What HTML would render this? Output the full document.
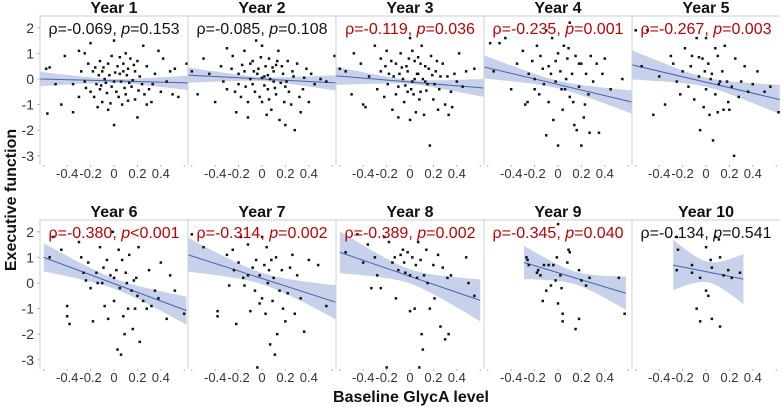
<!DOCTYPE html>
<html><head><meta charset="utf-8"><style>
html,body{margin:0;padding:0;background:#fff;}
svg{display:block;font-family:"Liberation Sans",sans-serif;}
</style></head><body>
<svg id="chart" width="782" height="407" viewBox="0 0 782 407" xmlns="http://www.w3.org/2000/svg">
<text x="0" y="0" transform="translate(16,200) rotate(-90)" text-anchor="middle" font-size="16" font-weight="bold" fill="#111">Executive function</text>
<text x="411" y="402" text-anchor="middle" font-size="16" font-weight="bold" fill="#111">Baseline GlycA level</text>
<g id="panels"></g>
</svg>
<script>
const titles=["Year 1","Year 2","Year 3","Year 4","Year 5","Year 6","Year 7","Year 8","Year 9","Year 10"];
const rhoVals=["-0.069","-0.085","-0.119","-0.235","-0.267","-0.380","-0.314","-0.389","-0.345","-0.134"];
const pVals=["=0.153","=0.108","=0.036","=0.001","=0.003","<0.001","=0.002","=0.002","=0.040","=0.541"];
const significant=[false,false,true,true,true,true,true,true,true,false];
const fitXMin=[-0.63,-0.63,-0.63,-0.63,-0.63,-0.6,-0.63,-0.6,-0.29,-0.28];
const fitXMax=[0.63,0.63,0.63,0.63,0.63,0.62,0.63,0.6,0.58,0.32];
const fitYStart=[0.0,0.15,0.12,0.47,0.55,1.0,1.1,1.2,0.8,0.7];
const fitYEnd=[-0.15,-0.15,-0.35,-0.9,-0.8,-1.08,-0.75,-0.68,-0.4,0.15];
const bandCenter=[0.08,0.08,0.08,0.15,0.18,0.2,0.22,0.28,0.25,0.4];
const bandEdge=[0.28,0.3,0.35,0.45,0.57,0.55,0.66,0.82,0.65,0.98];
const yTicks=[2,1,0,-1,-2,-3];
const xTicks=["-0.4","-0.2","0","0.2","0.4"];
const xTickVals=[-0.4,-0.2,0,0.2,0.4];
const pts1=[[-0.58,0.4],[-0.55,0.45],[-0.5,-0.2],[-0.57,-1.35],[-0.45,-1.0],[-0.35,-1.3],[-0.42,0.9],[-0.3,1.1],[-0.25,1.0],[-0.2,1.4],[-0.12,0.7],[-0.1,0.3],[-0.15,-0.2],[-0.2,-0.5],[-0.25,-0.1],[-0.3,-0.7],[-0.1,-0.9],[-0.05,-1.2],[0.0,-1.8],[0.02,-0.5],[0.05,0.2],[0.08,0.6],[0.1,1.0],[0.12,0.4],[0.15,-0.3],[0.18,-0.8],[0.2,-1.5],[0.22,0.1],[0.25,1.3],[0.28,0.5],[0.3,-0.4],[0.32,-0.9],[0.35,0.2],[0.38,1.1],[0.4,-0.5],[0.42,0.8],[0.45,-0.1],[0.48,0.3],[0.5,-0.6],[0.55,-0.7],[0.52,0.4],[0.62,0.6],[-0.08,0.0],[-0.02,-0.3],[0.03,0.5],[0.06,-0.1],[-0.12,-0.4],[-0.18,0.3],[0.0,1.5],[-0.05,0.6],[0.1,-0.6],[0.14,0.8],[0.18,0.3],[-0.22,0.6],[-0.28,0.3],[-0.35,-0.2],[0.24,-0.2],[0.28,-1.0],[0.07,-1.0],[-0.14,-1.1],[-0.02,0.9],[0.16,-0.05],[0.04,-0.7],[-0.09,0.45],[0.2,0.7],[-0.17,-0.7],[0.33,-0.2],[0.11,0.15],[-0.06,-0.55],[0.01,0.25],[-0.04,0.15],[0.09,-0.35],[-0.13,0.15],[0.21,-0.45],[0.13,-0.15],[-0.07,-0.15],[0.05,0.85],[-0.24,-0.35],[-0.16,0.45],[0.0,-0.1],[0.08,0.3],[-0.11,-0.25],[0.17,0.55],[0.26,-0.6],[-0.03,-0.95],[0.12,-0.85]];
const pts2=[[-0.6,0.3],[-0.55,-0.6],[-0.5,0.8],[-0.45,0.2],[-0.4,-0.9],[-0.35,0.5],[-0.3,1.2],[-0.3,-0.4],[-0.25,0.9],[-0.22,-1.3],[-0.2,0.2],[-0.18,-0.7],[-0.15,1.1],[-0.12,-1.5],[-0.1,0.6],[-0.08,-0.2],[-0.05,1.5],[-0.03,0.4],[0.0,-0.9],[0.0,1.3],[0.02,0.1],[0.05,-0.4],[0.06,0.8],[0.08,-1.2],[0.1,0.3],[0.12,-0.6],[0.14,1.1],[0.15,-1.6],[0.17,0.5],[0.2,-0.3],[0.2,-1.8],[0.22,0.7],[0.25,-1.0],[0.27,0.1],[0.28,-2.0],[0.3,0.6],[0.33,-1.3],[0.35,-0.4],[0.38,0.4],[0.4,-0.9],[0.42,0.2],[0.45,-0.2],[0.5,0.0],[0.55,-0.1],[0.62,0.9],[-0.1,0.0],[-0.06,-0.5],[0.03,0.5],[0.07,0.0],[0.1,-0.1],[-0.15,0.3],[-0.2,-0.2],[0.18,0.2],[-0.02,-0.7],[0.13,0.7],[0.23,-0.5],[-0.26,0.4],[-0.12,-0.9],[0.04,-1.4],[0.09,0.45],[-0.04,0.2],[0.16,-0.15],[-0.08,0.7],[0.26,0.3],[0.32,-0.7],[-0.33,-0.1],[0.0,0.05],[0.11,-0.35],[-0.17,0.55],[0.06,-0.8],[-0.01,0.85],[0.19,-0.9],[-0.23,-0.5],[0.36,0.05],[-0.07,0.3],[0.05,0.15],[0.12,0.55],[-0.14,-0.3],[0.21,-0.1],[0.02,-0.25]];
const pts3=[[-0.6,0.4],[-0.55,0.3],[-0.5,-0.6],[-0.48,1.0],[-0.42,0.6],[-0.4,-1.0],[-0.38,-1.1],[-0.35,0.1],[-0.3,1.3],[-0.28,-0.4],[-0.25,0.8],[-0.22,-0.7],[-0.2,1.1],[-0.18,0.2],[-0.15,-1.2],[-0.12,0.6],[-0.1,-0.3],[-0.08,1.0],[-0.05,-0.9],[-0.02,0.3],[0.0,1.6],[0.0,-1.6],[0.02,-0.1],[0.04,0.7],[0.05,-1.3],[0.07,0.2],[0.09,-0.5],[0.1,1.3],[0.12,-1.4],[0.13,0.5],[0.15,-0.2],[0.17,-2.6],[0.18,0.9],[0.2,-0.8],[0.22,0.3],[0.24,-1.2],[0.25,-0.4],[0.28,0.6],[0.3,-1.0],[0.32,0.1],[0.35,-0.5],[0.38,0.2],[0.4,-0.1],[0.42,1.0],[0.45,-0.3],[0.48,0.3],[0.55,0.4],[-0.06,0.0],[-0.03,0.5],[0.01,-0.4],[0.06,0.2],[0.11,0.0],[-0.14,0.1],[-0.19,-0.2],[0.16,0.4],[-0.01,0.8],[0.08,-0.8],[-0.1,-1.5],[0.21,-0.2],[-0.25,0.3],[0.26,0.1],[0.03,-0.6],[-0.07,0.45],[0.14,-0.45],[-0.16,0.7],[0.19,0.15],[-0.04,-0.25],[0.33,-1.4],[0.09,0.6],[-0.21,0.5],[0.23,0.7],[-0.12,-0.6],[0.02,1.1],[0.36,-1.1],[-0.09,0.2],[0.04,0.0],[0.13,-0.1],[-0.02,-0.5],[0.07,0.85]];
const pts4=[[-0.58,1.4],[-0.55,0.3],[-0.5,1.4],[-0.45,1.6],[-0.4,-0.4],[-0.35,0.6],[-0.3,1.1],[-0.28,-1.0],[-0.25,0.2],[-0.22,0.7],[-0.2,-0.4],[-0.18,1.3],[-0.15,0.9],[-0.12,-0.2],[-0.1,1.9],[-0.1,-2.2],[-0.08,0.5],[-0.05,1.6],[-0.04,-1.6],[-0.02,-0.1],[0.0,1.0],[0.0,-2.6],[0.02,0.3],[0.04,-1.2],[0.05,1.3],[0.06,-0.4],[0.08,0.8],[0.1,-0.7],[0.1,2.2],[0.12,0.2],[0.14,-1.8],[0.15,0.9],[0.16,-2.0],[0.18,-0.3],[0.2,0.6],[0.2,-2.6],[0.22,-1.5],[0.24,0.2],[0.26,-0.6],[0.28,0.9],[0.3,-0.1],[0.33,0.6],[0.35,-2.1],[0.38,0.2],[0.4,0.8],[0.45,-0.4],[0.55,0.0],[-0.06,0.2],[-0.16,-0.6],[0.07,0.0],[-0.26,-0.9],[0.13,-0.9],[-0.02,0.7],[0.18,0.6],[-0.2,0.0],[0.03,-0.4],[-0.13,0.4],[0.23,-1.0],[0.09,1.2],[-0.08,-0.9],[0.27,-2.1]];
const pts5=[[-0.6,1.9],[-0.55,0.5],[-0.5,1.9],[-0.45,-1.4],[-0.4,0.1],[-0.35,-1.0],[-0.3,0.9],[-0.28,0.6],[-0.25,-0.1],[-0.22,-0.6],[-0.2,0.3],[-0.18,1.2],[-0.15,-0.3],[-0.12,0.9],[-0.1,-0.8],[-0.08,1.6],[-0.06,0.1],[-0.05,-2.0],[-0.03,0.8],[-0.02,-1.1],[0.0,1.6],[0.0,-0.4],[0.02,0.6],[0.03,-1.4],[0.05,0.2],[0.06,-2.4],[0.08,1.2],[0.08,-0.6],[0.1,0.9],[0.1,-1.3],[0.12,-0.1],[0.14,0.3],[0.15,-1.2],[0.16,1.3],[0.18,-0.1],[0.2,-1.2],[0.22,-0.3],[0.24,-3.0],[0.25,0.8],[0.28,-0.7],[0.3,-0.1],[0.33,0.5],[0.36,-0.5],[0.4,-0.2],[0.44,0.3],[0.5,-0.5],[0.55,-0.3],[0.62,-1.3],[-0.13,0.5],[0.04,0.0],[-0.06,0.85],[0.11,-0.2],[0.19,-0.9],[-0.01,0.3]];
const pts6=[[-0.55,1.0],[-0.52,1.8],[-0.45,1.3],[-0.4,-1.3],[-0.4,-0.9],[-0.38,-1.6],[-0.3,1.6],[-0.28,1.0],[-0.26,0.4],[-0.24,0.1],[-0.22,0.8],[-0.2,-0.2],[-0.18,-1.5],[-0.15,0.4],[-0.12,1.4],[-0.1,0.0],[-0.08,-0.9],[-0.06,0.9],[-0.05,-1.4],[-0.03,0.3],[-0.01,2.0],[0.0,-0.7],[0.02,0.5],[0.03,-2.6],[0.04,1.3],[0.05,-0.2],[0.06,-2.8],[0.07,0.9],[0.08,-1.3],[0.09,-2.0],[0.1,0.4],[0.12,-1.0],[0.13,1.1],[0.15,-0.3],[0.16,-1.8],[0.17,0.1],[0.18,-1.0],[0.2,-0.5],[0.21,1.4],[0.22,-2.3],[0.25,-0.7],[0.28,-1.0],[0.3,0.5],[0.32,-0.9],[0.35,-0.3],[0.38,-0.6],[0.4,0.8],[0.45,-1.4],[0.48,0.3],[0.52,-0.3],[0.6,-1.2],[-0.14,0.0],[0.0,0.2],[0.11,0.0],[-0.09,0.6],[0.19,0.2]];
const pts7=[[-0.6,1.9],[-0.5,1.4],[-0.38,-1.1],[-0.38,-1.3],[-0.3,1.1],[-0.28,-0.1],[-0.25,1.3],[-0.24,0.5],[-0.22,-1.6],[-0.2,0.8],[-0.18,1.8],[-0.16,0.2],[-0.15,-0.1],[-0.12,1.5],[-0.1,-1.1],[-0.08,0.6],[-0.06,-0.3],[-0.05,0.9],[-0.04,-3.3],[-0.02,0.3],[0.0,1.8],[0.0,-0.6],[0.02,0.7],[0.03,-1.2],[0.04,1.4],[0.05,0.0],[0.07,-2.4],[0.08,0.9],[0.09,-0.7],[0.1,0.2],[0.11,-2.8],[0.12,1.0],[0.13,-2.0],[0.15,-0.3],[0.17,0.5],[0.18,-1.0],[0.2,-1.5],[0.22,-0.4],[0.24,0.6],[0.26,1.1],[0.28,-1.2],[0.3,0.3],[0.33,-0.6],[0.36,-1.9],[0.4,0.9],[0.48,0.7],[0.55,-0.9],[-0.12,0.3],[0.06,0.5],[-0.02,-0.8]];
const pts8=[[-0.55,1.2],[-0.45,1.9],[-0.4,0.8],[-0.36,1.5],[-0.33,-0.2],[-0.3,1.0],[-0.28,0.3],[-0.25,-0.2],[-0.22,1.8],[-0.2,-3.3],[-0.18,1.6],[-0.15,0.8],[-0.13,1.0],[-0.12,-0.6],[-0.1,0.5],[-0.08,1.1],[-0.06,1.3],[-0.05,0.8],[-0.04,0.4],[-0.02,1.2],[0.0,-1.1],[0.0,0.3],[0.02,1.0],[0.04,-1.0],[0.05,0.7],[0.06,0.2],[0.07,1.6],[0.08,-3.3],[0.09,0.9],[0.1,-2.0],[0.11,-2.6],[0.12,0.3],[0.14,1.3],[0.15,0.0],[0.17,-1.0],[0.2,0.7],[0.21,-0.6],[0.24,1.1],[0.26,-1.7],[0.28,0.6],[0.3,-2.2],[0.32,0.2],[0.33,-2.0],[0.35,0.3],[0.48,1.0],[0.5,0.0],[0.55,-0.5]];
const pts9=[[-0.27,1.0],[-0.26,0.9],[-0.25,0.7],[-0.18,0.4],[-0.17,0.5],[-0.15,0.3],[-0.13,-0.7],[-0.12,0.7],[-0.1,-0.3],[-0.08,0.7],[-0.06,-0.1],[-0.04,0.7],[-0.02,0.1],[-0.01,1.0],[0.0,-0.8],[0.02,0.3],[0.03,-0.2],[0.04,-1.2],[0.04,-1.5],[0.08,0.8],[0.09,1.3],[0.1,1.2],[0.15,-1.8],[0.18,0.5],[0.18,-1.4],[0.2,0.1],[0.24,-0.1],[0.27,0.2],[0.52,0.2],[0.57,-1.2],[0.0,2.3]];
const pts10=[[-0.25,1.8],[-0.24,1.3],[-0.25,0.5],[-0.12,0.4],[-0.12,0.7],[-0.08,-1.0],[-0.05,0.2],[-0.05,-1.5],[0.0,1.4],[0.0,-0.3],[0.02,-0.5],[0.04,0.9],[0.05,0.6],[0.05,-1.4],[0.08,1.8],[0.11,1.7],[0.12,1.0],[0.12,-1.7],[0.15,0.3],[0.19,0.5],[0.22,0.2],[0.29,0.4]];
const allPoints=[pts1,pts2,pts3,pts4,pts5,pts6,pts7,pts8,pts9,pts10];

const NS="http://www.w3.org/2000/svg";
const PW=148, PX0=40, UX=117, UY=25.6;
function panelLeft(i){return PX0+(i%5)*PW;}
function panelTop(i){return i<5?16:220;}
function xScale(i,v){return panelLeft(i)+74+v*UX;}
function yScale(i,v){return (i<5?79:283)-v*UY;}
function mk(tag,attrs,parent){const e=document.createElementNS(NS,tag);for(const k in attrs)e.setAttribute(k,attrs[k]);parent.appendChild(e);return e;}
const root=document.getElementById('panels');
for(let i=0;i<10;i++){
  const L=panelLeft(i), T=panelTop(i), B=T+149;
  const g=mk('g',{},root);
  
  
  const clipId='clip'+i;
  const cp=mk('clipPath',{id:clipId},g);
  mk('rect',{x:L,y:T,width:PW,height:B-T},cp);
  const fr=mk('path',{d:`M${L},${B} L${L},${T} L${L+PW},${T} ${i%5==4?'':'L'+(L+PW)+','+B}`,fill:'none',stroke:'#cfcfcf','stroke-width':1},g);
  
  
  const tt=mk('text',{x:L+74,y:T-3,'text-anchor':'middle','font-size':16,'font-weight':'bold',fill:'#111'},g);
  tt.textContent=titles[i];
  
  
  const cg=mk('g',{'clip-path':`url(#${clipId})`},g);
  const x0=fitXMin[i],x1=fitXMax[i],xm=(x0+x1)/2,half=(x1-x0)/2;
  const c=bandCenter[i],e=bandEdge[i];
  const fy=x=>fitYStart[i]+(fitYEnd[i]-fitYStart[i])*(x-x0)/(x1-x0);
  const hw=x=>Math.sqrt(c*c+(e*e-c*c)*Math.pow((x-xm)/half,2));
  const up=[],dn=[];
  for(let k=0;k<=30;k++){const x=x0+(x1-x0)*k/30;up.push(xScale(i,x).toFixed(1)+','+yScale(i,fy(x)+hw(x)).toFixed(1));dn.unshift(xScale(i,x).toFixed(1)+','+yScale(i,fy(x)-hw(x)).toFixed(1));}
  const band=mk('polygon',{points:up.concat(dn).join(' '),fill:'#c7d1ea',stroke:'none'},cg);
  
  
  const ln=mk('line',{x1:xScale(i,x0),y1:yScale(i,fy(x0)),x2:xScale(i,x1),y2:yScale(i,fy(x1)),stroke:'#4a63b0','stroke-width':1},cg);
  
  
  allPoints[i].forEach(p=>{
    const d=mk('rect',{x:(xScale(i,p[0])-1.25).toFixed(1),y:(yScale(i,p[1])-1.25).toFixed(1),width:2.5,height:2.5,fill:'#111'},cg);
    
    
  });
  const col=significant[i]?'#c00000':'#111';
  const an=mk('text',{x:L+74,y:T+18,'text-anchor':'middle','font-size':16,fill:col},g);
  
  
  const s1=mk('tspan',{},an);s1.textContent='ρ='+rhoVals[i]+', ';
  const s2=mk('tspan',{'font-style':'italic'},an);s2.textContent='p';
  const s3=mk('tspan',{},an);s3.textContent=pVals[i];
  xTicks.forEach((t,k)=>{
    const tx=mk('text',{x:xScale(i,xTickVals[k]),y:B+13,'text-anchor':'middle','font-size':13,fill:'#333'},g);
    tx.textContent=t;
    
    
  });
  for(let v=-0.6;v<=0.61;v+=0.2){mk('line',{x1:xScale(i,v),x2:xScale(i,v),y1:B,y2:B+2,stroke:'#bbb'},g);}
  if(i%5==0){
    yTicks.forEach(t=>{
      const ty=mk('text',{x:L-6,y:yScale(i,t)+5,'text-anchor':'end','font-size':14,fill:'#333'},g);
      ty.textContent=t;
      
      
      mk('line',{x1:L-3,x2:L,y1:yScale(i,t),y2:yScale(i,t),stroke:'#bbb'},g);
    });
  }
}
</script>
</body></html>
